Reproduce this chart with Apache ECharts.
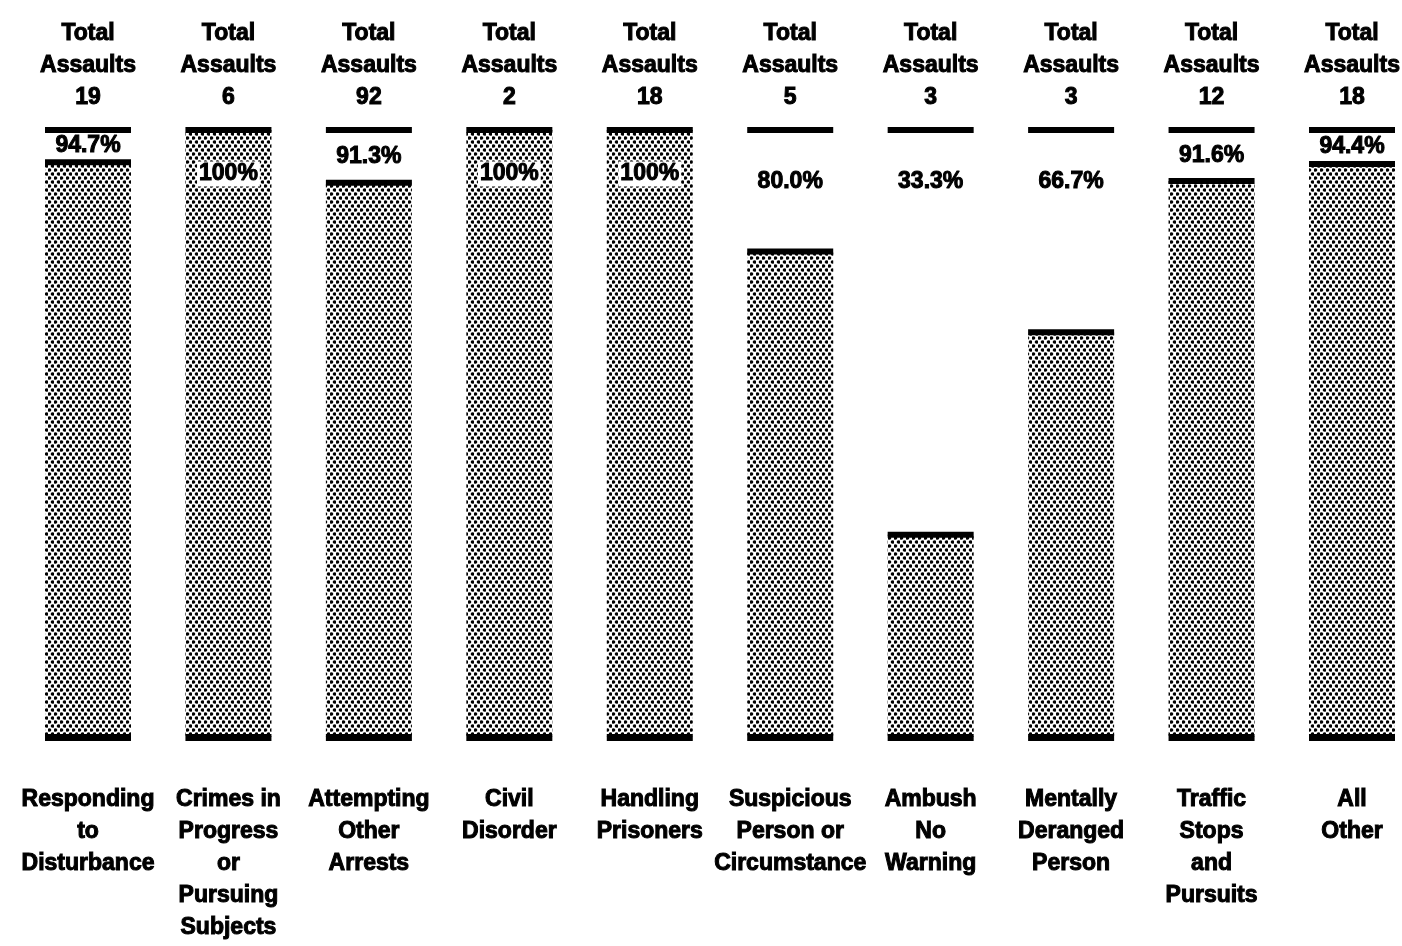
<!DOCTYPE html>
<html>
<head>
<meta charset="utf-8">
<script src="https://cdn.jsdelivr.net/npm/echarts@6/dist/echarts.min.js"></script>
<style>
html,body{margin:0;padding:0;background:#fff;}
#chart{width:1402px;height:946px;}
</style>
</head>
<body>
<div id="chart"></div>
<script>
const categories = ['Responding\nto\nDisturbance', 'Crimes in\nProgress\nor\nPursuing\nSubjects', 'Attempting\nOther\nArrests', 'Civil\nDisorder', 'Handling\nPrisoners', 'Suspicious\nPerson or\nCircumstance', 'Ambush\nNo\nWarning', 'Mentally\nDeranged\nPerson', 'Traffic\nStops\nand\nPursuits', 'All\nOther'];
const totalAssaults = [19, 6, 92, 2, 18, 5, 3, 3, 12, 18];
const percents = [94.7, 100, 91.3, 100, 100, 80.0, 33.3, 66.7, 91.6, 94.4];

const FONT = '"Liberation Sans", Arial, Helvetica, sans-serif';

// dotted screen pattern
const tile = document.createElement('canvas');
tile.width = 6; tile.height = 8;
const tctx = tile.getContext('2d');
tctx.fillStyle = '#fff'; tctx.fillRect(0, 0, 6, 8);
tctx.fillStyle = '#000';
[[1.5, 2], [4.5, 6]].forEach(function (p) {
  tctx.beginPath(); tctx.arc(p[0], p[1], 1.8, 0, Math.PI * 2); tctx.fill();
});

const data = percents.map(function (p, i) { return [i, p, totalAssaults[i]]; });

function fmtPct(v) { return v >= 100 ? '100%' : v.toFixed(1) + '%'; }

const textStyleBase = {
  fontFamily: FONT, fontWeight: 'bold', fontSize: 23, fill: '#000',
  stroke: '#000', lineWidth: 1, align: 'center'
};

const chart = echarts.init(document.getElementById('chart'));
chart.setOption({
  backgroundColor: '#fff',
  animation: false,
  grid: { left: 88, width: 1264, top: 130, height: 607 },
  xAxis: {
    type: 'category', data: categories, boundaryGap: false,
    axisLine: { show: false }, axisTick: { show: false },
    axisLabel: {
      interval: 0, margin: 47, color: '#000', fontFamily: FONT,
      fontWeight: 'bold', fontSize: 23, lineHeight: 32,
      textBorderColor: '#000', textBorderWidth: 1
    }
  },
  yAxis: { type: 'value', min: 0, max: 100, show: false, splitLine: { show: false } },
  series: [{
    type: 'custom',
    clip: false,
    encode: { x: 0, y: 1 },
    data: data,
    renderItem: function (params, api) {
      const idx = api.value(0), val = api.value(1), tot = api.value(2);
      const x = api.coord([idx, 0])[0];
      const y0 = api.coord([idx, 0])[1];
      const yTop = api.coord([idx, val])[1];
      const yCap = api.coord([idx, 100])[1];
      const w = 86;
      const children = [];
      children.push({ type: 'rect', shape: { x: x - w / 2, y: yTop, width: w, height: y0 - yTop },
        style: { fill: { image: tile, repeat: 'repeat' } } });
      children.push({ type: 'rect', shape: { x: x - w / 2, y: yTop - 3, width: w, height: 6 }, style: { fill: '#000' } });
      if (val < 100) {
        children.push({ type: 'rect', shape: { x: x - w / 2, y: yCap - 3, width: w, height: 6 }, style: { fill: '#000' } });
      }
      children.push({ type: 'rect', shape: { x: x - w / 2, y: y0 - 3, width: w, height: 7 }, style: { fill: '#000' } });
      children.push({ type: 'text', x: x, y: yCap - 16,
        style: Object.assign({}, textStyleBase, { text: 'Total\nAssaults\n' + tot, verticalAlign: 'bottom', lineHeight: 32 }) });
      let py;
      const pstyle = Object.assign({}, textStyleBase, { text: fmtPct(val), verticalAlign: 'middle' });
      if (val >= 100) {
        py = yCap + 44;
        pstyle.backgroundColor = '#fff';
        pstyle.padding = [1, 2, 1, 2];
      } else {
        py = Math.min(yCap + 52, (yCap + yTop) / 2);
      }
      children.push({ type: 'text', x: x, y: py, style: pstyle });
      return { type: 'group', children: children };
    }
  }]
});
</script>
</body>
</html>
